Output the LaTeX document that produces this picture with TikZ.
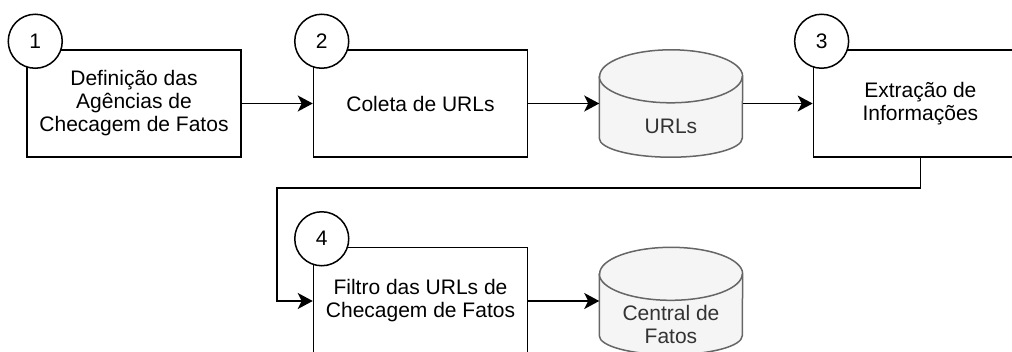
\documentclass[tikz,border=0pt]{standalone}
\usepackage{fontspec}
\setmainfont{Liberation Sans}
\usepackage{xcolor}
\usetikzlibrary{positioning, arrows.meta}
\definecolor{storefill}{HTML}{F5F5F5}
\definecolor{storeline}{HTML}{666666}
\definecolor{storetext}{HTML}{333333}

\tikzset{
  stage/.style={draw, line width=1.5pt, minimum width=214pt, minimum height=107pt,
                inner sep=0pt, align=center, font=\fontsize{21pt}{23pt}\selectfont},
  stagenum/.style={circle, draw, fill=white, line width=1.5pt, minimum size=54pt,
                   inner sep=0pt, font=\fontsize{21pt}{23pt}\selectfont},
  store/.style={minimum width=143pt, minimum height=107pt, inner sep=0pt},
  storelabel/.style={text=storetext, align=center, inner sep=0pt,
                     font=\fontsize{21pt}{23pt}\selectfont},
  flow/.style={line width=1.5pt, -{Stealth[length=15pt, width=16pt, inset=4pt]}},
}

% cylinder outline round an empty store node
\newcommand{\drawstore}[1]{%
  \filldraw[fill=storefill, draw=storeline, line width=1.5pt]
    ([yshift=-26.5pt]#1.north west) -- ([yshift=19pt]#1.south west)
    arc[start angle=180, end angle=360, x radius=71.5pt, y radius=19pt]
    -- ([yshift=-26.5pt]#1.north east)
    arc[start angle=0, end angle=180, x radius=71.5pt, y radius=26.5pt] -- cycle;
  \draw[storeline, line width=1.5pt] ([yshift=-26.5pt]#1.north west)
    arc[start angle=180, end angle=360, x radius=71.5pt, y radius=26.5pt];
}

\begin{document}
\begin{tikzpicture}[x=1pt, y=-1pt]
  \clip (0,0) rectangle (1012,351);

  % first row
  \node[stage] (defin) at (134,103.5) {Definição das\\Agências de\\Checagem de Fatos};
  \node[stage, right=71pt of defin] (coleta) {Coleta de URLs};
  \node[store, right=71pt of coleta] (urls) {};
  \node[stage, right=70pt of urls] (extr) {Extração de\\Informações};

  % second row
  \node[stage, below=89pt of coleta] (filtro) {Filtro das URLs de\\Checagem de Fatos};
  \node[store, right=71pt of filtro] (central) {};

  \drawstore{urls}
  \drawstore{central}
  \node[storelabel] (urlstext) at ([yshift=-23pt]urls.center) {URLs};
  \node[storelabel] (centraltext) at ([yshift=-23pt]central.center) {Central de\\Fatos};

  % step numbers
  \node[stagenum] (n1) at ([xshift=9pt, yshift=8pt]defin.north west) {1};
  \node[stagenum] (n2) at ([xshift=9pt, yshift=8pt]coleta.north west) {2};
  \node[stagenum] (n3) at ([xshift=9pt, yshift=8pt]extr.north west) {3};
  \node[stagenum] (n4) at ([xshift=9pt, yshift=8pt]filtro.north west) {4};

  \draw[flow] (defin) -- (coleta);
  \draw[flow] (coleta) -- (urls);
  \draw[flow] (urls) -- (extr);
  \draw[flow] (extr.south) -- ++(0,30) -| ([xshift=-36pt]filtro.west) -- (filtro.west);
  \draw[flow] (filtro) -- (central);
\end{tikzpicture}
\end{document}
